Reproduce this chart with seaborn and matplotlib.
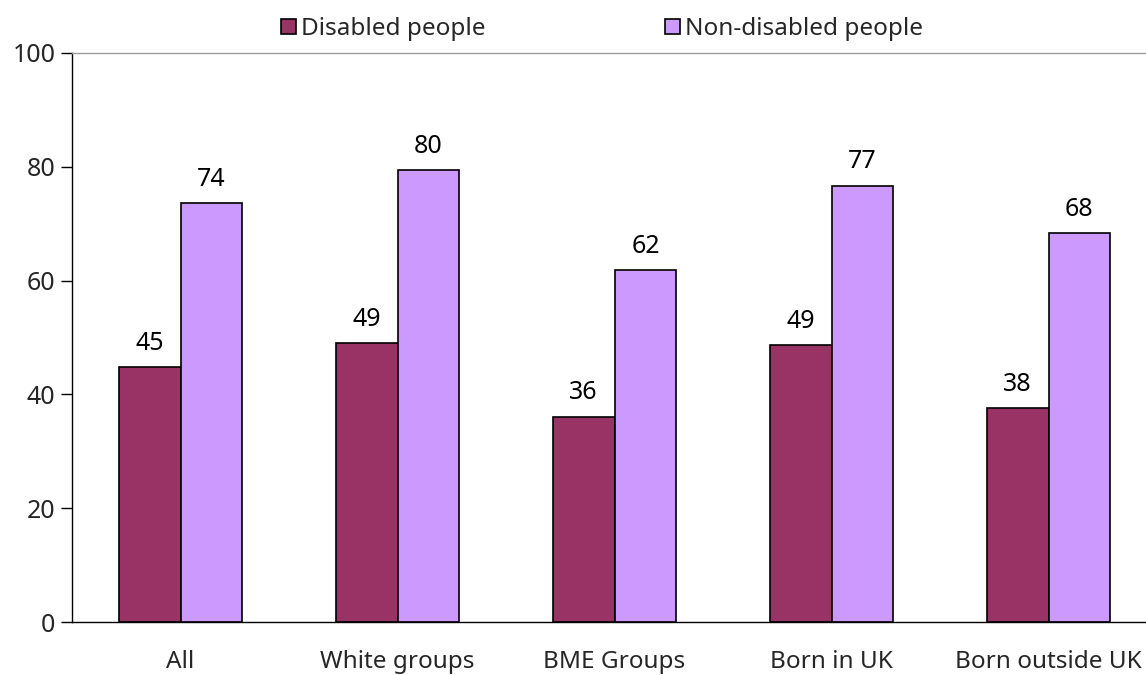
import pandas as pd
import seaborn as sns
import matplotlib.pyplot as plt

# Data
categories = ["All", "White groups", "BME Groups", "Born in UK", "Born outside UK"]
disabled = [44.8, 49.1, 36.1, 48.6, 37.6]
non_disabled = [73.6, 79.5, 61.9, 76.7, 68.4]
series_names = ["Disabled people", "Non-disabled people"]
colors = ["#993366", "#CC99FF"]
y_ticks = [0, 20, 40, 60, 80, 100]

df = pd.DataFrame({
    "group": categories * 2,
    "series": [series_names[0]] * len(categories) + [series_names[1]] * len(categories),
    "value": disabled + non_disabled,
})

sns.set_style("white")
plt.rcParams["font.family"] = ["Noto Sans", "DejaVu Sans"]
fs = 17.5

fig = plt.figure(figsize=(11.46, 6.75), dpi=100)
# right edge of the plot area runs just past the figure, as in the original
ax = fig.add_axes([72 / 1146, 53 / 675, 1085 / 1146, 569 / 675])

sns.barplot(data=df, x="group", y="value", hue="series", palette=colors,
            width=0.57, gap=0, edgecolor="black", linewidth=1.2, saturation=1,
            ax=ax)

for container in ax.containers:
    ax.bar_label(container, fmt="%.0f", padding=8, fontsize=18, color="black")

ax.set_xlim(-0.5, len(categories) - 0.5)
ax.set_ylim(0, 100)
ax.set_yticks(y_ticks)
ax.set_yticklabels([str(t) for t in y_ticks], fontsize=18)
ax.set_xlabel("")
ax.set_ylabel("")

# category labels centred, tick marks on the category boundaries
ax.set_xticks(range(len(categories)))
ax.set_xticklabels(categories, fontsize=fs)
ax.tick_params(axis="x", length=0, pad=20)
ax.set_xticks([i - 0.5 for i in range(len(categories) + 1)], minor=True)
ax.tick_params(axis="x", which="minor", direction="out", length=8, width=1, color="black")
ax.tick_params(axis="y", direction="out", length=8, width=1, color="black", left=True, pad=4)

for side in ["left", "bottom"]:
    ax.spines[side].set_color("black")
    ax.spines[side].set_linewidth(1)
ax.spines["top"].set_color("#9a9a9a")
ax.spines["top"].set_linewidth(1)
ax.spines["right"].set_visible(False)

handles, labels = ax.get_legend_handles_labels()
ax.legend_.remove()
fig.legend(handles, labels, loc="center", bbox_to_anchor=(0.5253, 0.957), ncol=2,
           frameon=False, fontsize=fs, handlelength=0.62, handleheight=0.62,
           handletextpad=0.2, columnspacing=7.4)

plt.savefig("out.png", dpi=100)
